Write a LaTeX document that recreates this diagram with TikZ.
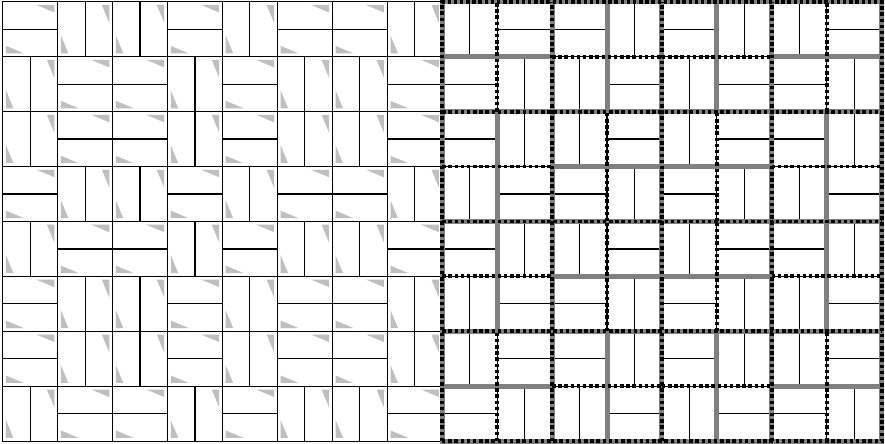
\documentclass[tikz,border=0pt]{standalone}
\usepackage{tikz}
\tikzset{
  tile/.style={draw=black,line width=0.6pt},                            % thin tile outline
  wedge/.style={fill=black!25},                                         % grey corner marker
  gseam/.style={draw=black!50,line width=2.6pt},                        % thick grey seam
  dseam/.style={draw=black,line width=2pt,dash pattern=on 1.8pt off 1.4pt}, % square dashes
  cellH/.style={},                                                      % split across
  cellV/.style={cm={0,1,1,0,(0,0)}}                                     % split upright
}
\def\tmseq{{0,1,1,0,1,0,0,1}}

\begin{document}
\begin{tikzpicture}
  \useasboundingbox (-0.049,-0.042) rectangle (16.06,8.031);
  % left board: tiles with corner markers
  \foreach \i in {0,...,7}
    \foreach \j in {0,...,7} {
      \pgfmathtruncatemacro\flip{mod(\tmseq[\i]+\tmseq[\j],2)}
      \ifnum\flip=1 \def\kind{cellV}\else\def\kind{cellH}\fi
      \begin{scope}[shift={(\j,7-\i)},\kind]
        \fill[wedge] (0.06,0.06) -- ++(0.325,0) -- ++(-0.325,0.135) -- cycle;
        \fill[wedge] (0.94,0.94) -- ++(-0.325,0) -- ++(0.325,-0.135) -- cycle;
        \draw[tile] (0,0) rectangle (1,1) (0,0.5) -- (1,0.5);
      \end{scope}
    }
  % right board: same tiles, turned
  \foreach \i in {0,...,7}
    \foreach \j in {0,...,7} {
      \pgfmathtruncatemacro\flip{mod(\tmseq[\i]+\tmseq[\j]+1,2)}
      \ifnum\flip=1 \def\kind{cellV}\else\def\kind{cellH}\fi
      \begin{scope}[shift={(8+\j,7-\i)},\kind]
        \draw[tile] (0,0) rectangle (1,1) (0,0.5) -- (1,0.5);
      \end{scope}
    }
  % grey seams
  \draw[gseam] (8,0) rectangle (16,8);
  \foreach \k in {2,4,6} {
    \draw[gseam] (8+\k,0) -- (8+\k,8);
    \draw[gseam] (8,\k) -- (16,\k);
  }
  \foreach \r in {0,...,3}
    \foreach \c in {0,...,3} {
      \pgfmathtruncatemacro\kindb{mod(\tmseq[\r]+\tmseq[\c],2)}
      \ifnum\kindb=0
        \draw[gseam] (8+2*\c,7-2*\r) -- ++(2,0);
      \else
        \draw[gseam] (9+2*\c,6-2*\r) -- ++(0,2);
      \fi
    }
  % dashed seams
  \draw[dseam] (8,0) rectangle (16,8);
  \foreach \k in {2,4,6} {
    \draw[dseam] (8+\k,0) -- (8+\k,8);
    \draw[dseam] (8,\k) -- (16,\k);
  }
  \foreach \r in {0,...,3}
    \foreach \c in {0,...,3} {
      \pgfmathtruncatemacro\kindb{mod(\tmseq[\r]+\tmseq[\c],2)}
      \ifnum\kindb=0
        \draw[dseam] (9+2*\c,6-2*\r) -- ++(0,2);
      \else
        \draw[dseam] (8+2*\c,7-2*\r) -- ++(2,0);
      \fi
    }
\end{tikzpicture}
\end{document}
